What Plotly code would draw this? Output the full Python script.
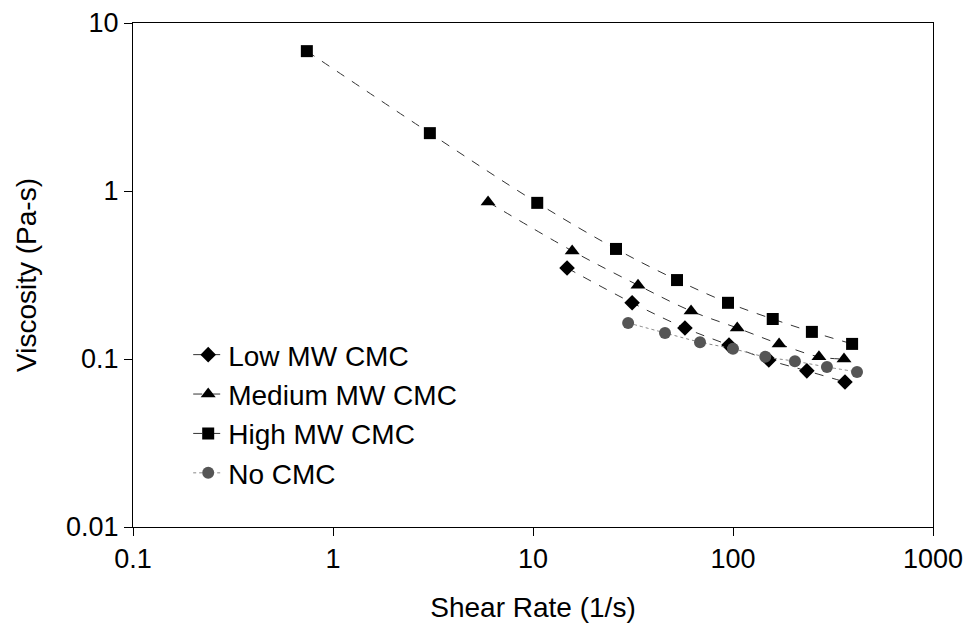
import plotly.graph_objects as go

# Low MW CMC (diamonds)
low_x = [14.8, 31.3, 57.5, 95.5, 151, 234, 363]
low_y = [0.348, 0.216, 0.153, 0.121, 0.0986, 0.085, 0.073]

# Medium MW CMC (triangles)
med_x = [5.96, 15.7, 33.5, 61.7, 105, 170, 269, 359]
med_y = [0.86, 0.44, 0.275, 0.193, 0.153, 0.123, 0.103, 0.100]

# High MW CMC (squares)
high_x = [0.74, 3.05, 10.5, 26, 52.5, 94.4, 158, 248, 394]
high_y = [6.8, 2.21, 0.85, 0.452, 0.295, 0.216, 0.173, 0.145, 0.123]

# No CMC (grey circles)
no_x = [29.9, 45.7, 68.4, 100, 145, 204, 295, 417]
no_y = [0.164, 0.143, 0.126, 0.115, 0.103, 0.097, 0.0896, 0.0838]

FONT = "Liberation Sans, Arial, sans-serif"

fig = go.Figure()
fig.add_trace(go.Scatter(x=low_x, y=low_y, name="Low MW CMC", mode="lines+markers",
                         line=dict(color="#333333", width=1, dash="dash", shape="spline"),
                         marker=dict(symbol="diamond", size=12, color="black")))
fig.add_trace(go.Scatter(x=med_x, y=med_y, name="Medium MW CMC", mode="lines+markers",
                         line=dict(color="#333333", width=1, dash="dash", shape="spline"),
                         marker=dict(symbol="triangle-up", size=13, color="black")))
fig.add_trace(go.Scatter(x=high_x, y=high_y, name="High MW CMC", mode="lines+markers",
                         line=dict(color="#333333", width=1, dash="dash", shape="spline"),
                         marker=dict(symbol="square", size=12, color="black")))
fig.add_trace(go.Scatter(x=no_x, y=no_y, name="No CMC", mode="lines+markers",
                         line=dict(color="#888888", width=1, dash="dot", shape="spline"),
                         marker=dict(symbol="circle", size=12, color="#555555")))

axis_common = dict(type="log", showgrid=False, zeroline=False, showline=True,
                   linecolor="black", linewidth=1, mirror=True, ticks="outside",
                   ticklen=8, tickcolor="black", automargin=False,
                   tickfont=dict(family=FONT, size=27, color="black"))

fig.update_xaxes(range=[-1, 3], tickvals=[0.1, 1, 10, 100, 1000],
                 ticktext=["0.1", "1", "10", "100", "1000"],
                 title=dict(text="Shear Rate (1/s)", font=dict(family=FONT, size=28, color="black"),
                            standoff=23),
                 **axis_common)
fig.update_yaxes(range=[-2, 1], tickvals=[0.01, 0.1, 1, 10],
                 ticktext=["0.01", "0.1", "1", "10"],
                 title=dict(text="Viscosity (Pa-s)", font=dict(family=FONT, size=28, color="black"),
                            standoff=21),
                 **axis_common)

fig.update_layout(
    width=969, height=631,
    margin=dict(l=133, r=36, t=23, b=104),
    paper_bgcolor="white", plot_bgcolor="white",
    showlegend=True,
    legend=dict(x=0.069, y=0.391, xanchor="left", yanchor="top",
                bgcolor="rgba(0,0,0,0)", borderwidth=0,
                font=dict(family=FONT, size=28, color="black"),
                itemwidth=30),
)

fig.write_html("out.html")
